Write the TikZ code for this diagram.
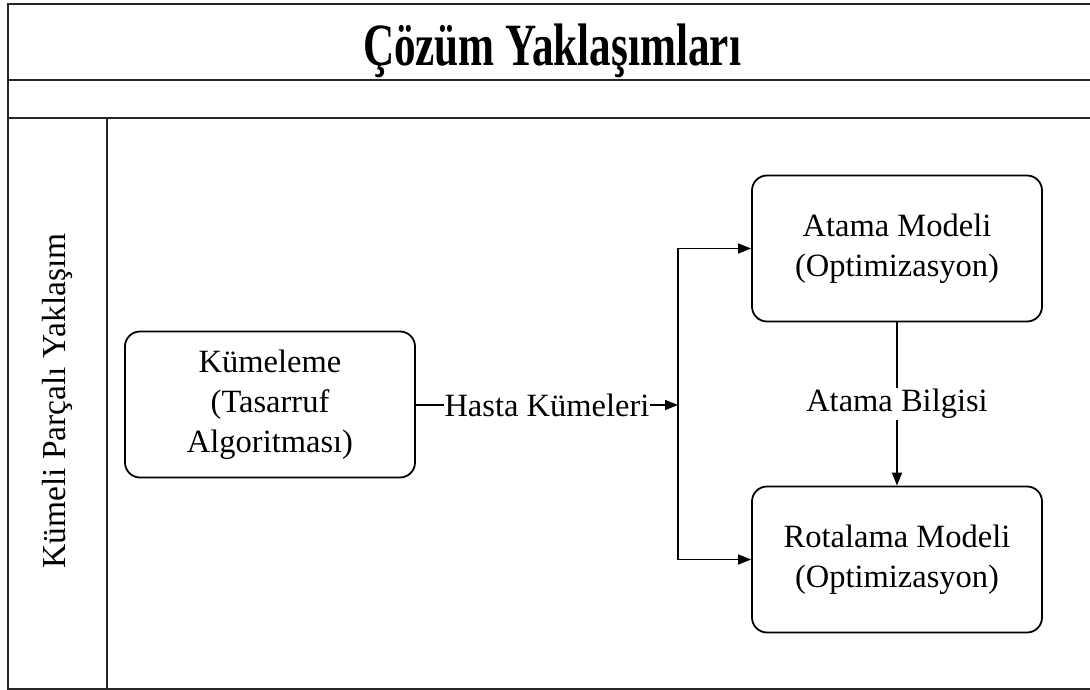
\documentclass[tikz,border=0pt]{standalone}
\usepackage{fontspec}
\setmainfont{Liberation Serif}
\usetikzlibrary{arrows.meta}
\tikzset{
  frameline/.style={line width=2pt, draw=black!85},
  procbox/.style={draw, line width=1.8pt, rounded corners=15pt, minimum width=290pt, minimum height=146pt, align=center, font=\fontsize{32.5}{40}\selectfont, inner sep=0pt},
  conn/.style={line width=1.5pt, -{Triangle[length=13pt,width=10pt]}},
  lbl/.style={fill=white, font=\fontsize{32.5}{40}\selectfont, inner sep=1pt},
}
\begin{document}
\begin{tikzpicture}[x=1pt,y=-1pt]
\useasboundingbox[fill=white] (0,0) rectangle (1090,690);
% frame
\draw[frameline] (1090,4) -- (8,4) -- (8,689) -- (1090,689);
\draw[frameline] (8,80) -- (1090,80);
\draw[frameline] (8,118) -- (1090,118);
\draw[frameline] (107,118) -- (107,689);
% title
\node[anchor=base, inner sep=0pt] (title) at (552,66) {\scalebox{0.72}[1]{\fontsize{60}{60}\selectfont\bfseries Çözüm Yaklaşımları}};
% lane label
\node[rotate=90, font=\fontsize{33.5}{40}\selectfont, inner sep=0pt] (lane) at (57,401) {Kümeli Parçalı Yaklaşım};
% boxes
\node[procbox] (kum) at (270,404.5) {Kümeleme\\(Tasarruf\\Algoritması)};
\node[procbox] (atama) at (897,248.5) {Atama Modeli\\(Optimizasyon)};
\node[procbox] (rota) at (897,559.5) {Rotalama Modeli\\(Optimizasyon)};
% connectors
\coordinate (j) at (678,405);
\draw[conn] (kum.east |- j) -- node[lbl] (hk) {Hasta Kümeleri} (j);
\draw[conn] (j) |- (atama.west);
\draw[conn] (j) |- (rota.west);
\draw[conn] (atama.south) -- node[lbl] (ab) {Atama Bilgisi} (rota.north);
\end{tikzpicture}
\end{document}
